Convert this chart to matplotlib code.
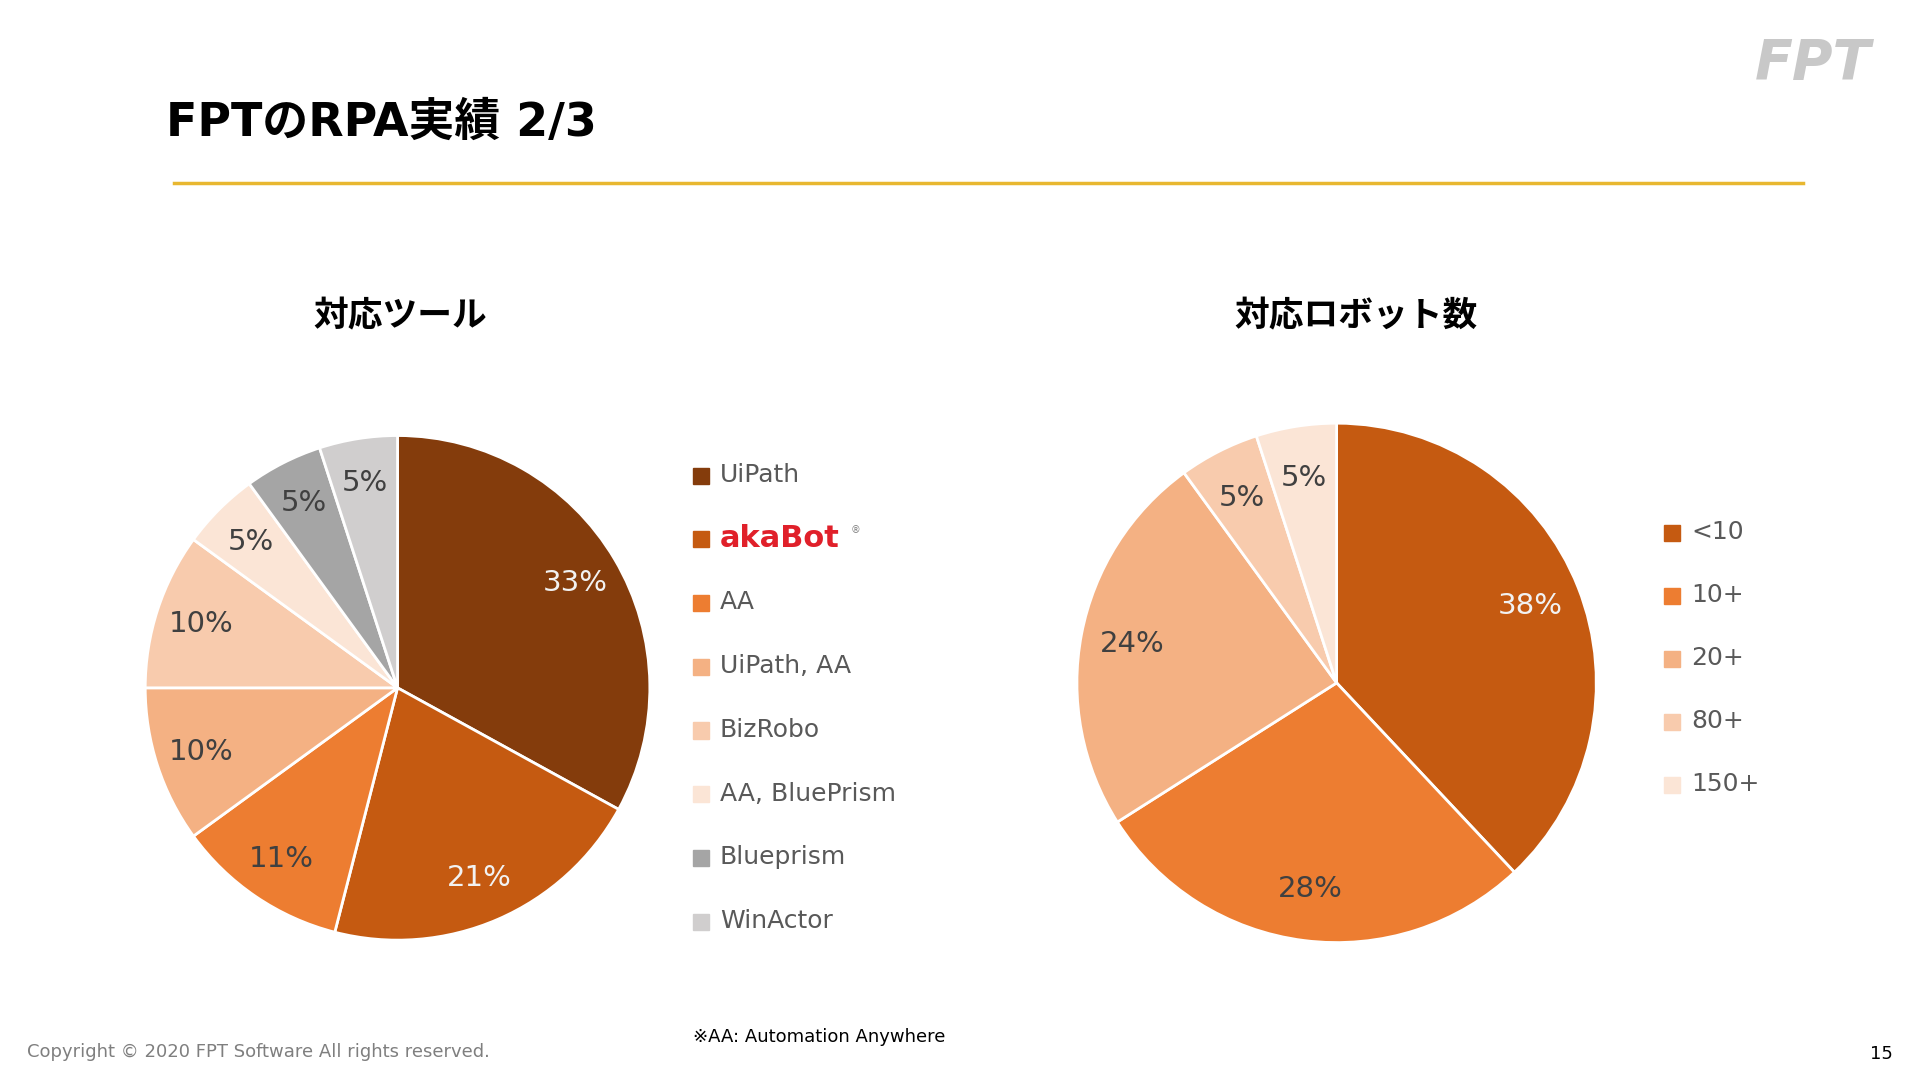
import matplotlib.pyplot as plt
from matplotlib.patches import Rectangle

plt.rcParams['font.family'] = ['DejaVu Sans', 'Noto Sans CJK JP']

# data
tool_labels = ['UiPath', 'akaBot', 'AA', 'UiPath, AA', 'BizRobo', 'AA, BluePrism', 'Blueprism', 'WinActor']
tool_values = [33, 21, 11, 10, 10, 5, 5, 5]
tool_colors = ['#843C0C', '#C55A11', '#ED7D31', '#F4B183', '#F8CBAD', '#FBE5D6', '#A5A5A5', '#D0CECE']
tool_txt = ['#F2F2F2', '#F2F2F2', '#404040', '#404040', '#404040', '#404040', '#404040', '#404040']

robot_labels = ['<10', '10+', '20+', '80+', '150+']
robot_values = [38, 28, 24, 5, 5]
robot_colors = ['#C55A11', '#ED7D31', '#F4B183', '#F8CBAD', '#FBE5D6']
robot_txt = ['#F2F2F2', '#404040', '#404040', '#404040', '#404040']

W, H = 1560, 873
fig = plt.figure(figsize=(19.2, 10.8), dpi=100)


def fx(x):
    return x / W


def fy(y):
    return 1 - y / H


def pie_at(cx, cy, r, values, colors, txtc, ldist):
    ax = fig.add_axes([fx(cx - r), fy(cy + r), 2 * r / W, 2 * r / H])
    wedges, texts, autotexts = ax.pie(values, colors=colors, startangle=90, counterclock=False,
                                      autopct='%d%%', pctdistance=ldist, radius=1,
                                      wedgeprops=dict(edgecolor='white', linewidth=2))
    for t, c in zip(autotexts, txtc):
        t.set_color(c)
        t.set_fontsize(21)
    ax.set_xlim(-1, 1)
    ax.set_ylim(-1, 1)
    ax.axis('off')


pie_at(323, 556, 205, tool_values, tool_colors, tool_txt, 0.82)
pie_at(1086, 552, 211, robot_values, robot_colors, robot_txt, 0.8)


def legend(x, y0, dy, labels, colors):
    for i, (lab, col) in enumerate(zip(labels, colors)):
        y = y0 + i * dy
        fig.patches.append(Rectangle((fx(x), fy(y + 7)), 13 / W, 13 / H, color=col,
                                     transform=fig.transFigure))
        if lab == 'akaBot':
            fig.text(fx(x + 22), fy(y), 'akaBot', color='#E0202A', fontsize=22,
                     fontweight='bold', va='center')
            fig.text(fx(x + 128), fy(y - 7), '®', color='#808080', fontsize=7, va='center')
        else:
            fig.text(fx(x + 22), fy(y), lab, color='#595959', fontsize=18, va='center')


legend(563, 384, 51.5, tool_labels, tool_colors)
legend(1352, 430, 51, robot_labels, robot_colors)

fig.text(fx(135), fy(100), 'FPTのRPA実績 2/3', fontsize=33, fontweight='bold', va='center')
fig.add_artist(plt.Line2D([fx(141), fx(1465)], [fy(148), fy(148)], color='#E8B730', lw=2.5))
fig.text(fx(325), fy(255), '対応ツール', fontsize=25, fontweight='bold', ha='center', va='center',
         family='Noto Sans CJK JP')
fig.text(fx(1102), fy(255), '対応ロボット数', fontsize=25, fontweight='bold', ha='center', va='center',
         family='Noto Sans CJK JP')

fig.text(fx(1473), fy(52), 'FPT', fontsize=40, fontweight='bold', fontstyle='italic',
         color='#C8C8C8', ha='center', va='center')

fig.text(fx(22), fy(850), 'Copyright © 2020 FPT Software All rights reserved.', fontsize=13,
         color='#7F7F7F', va='center')
fig.text(fx(563), fy(838), '※AA: Automation Anywhere', fontsize=13, va='center')
fig.text(fx(1538), fy(852), '15', fontsize=13, ha='right', va='center')

fig.savefig('out.png')
